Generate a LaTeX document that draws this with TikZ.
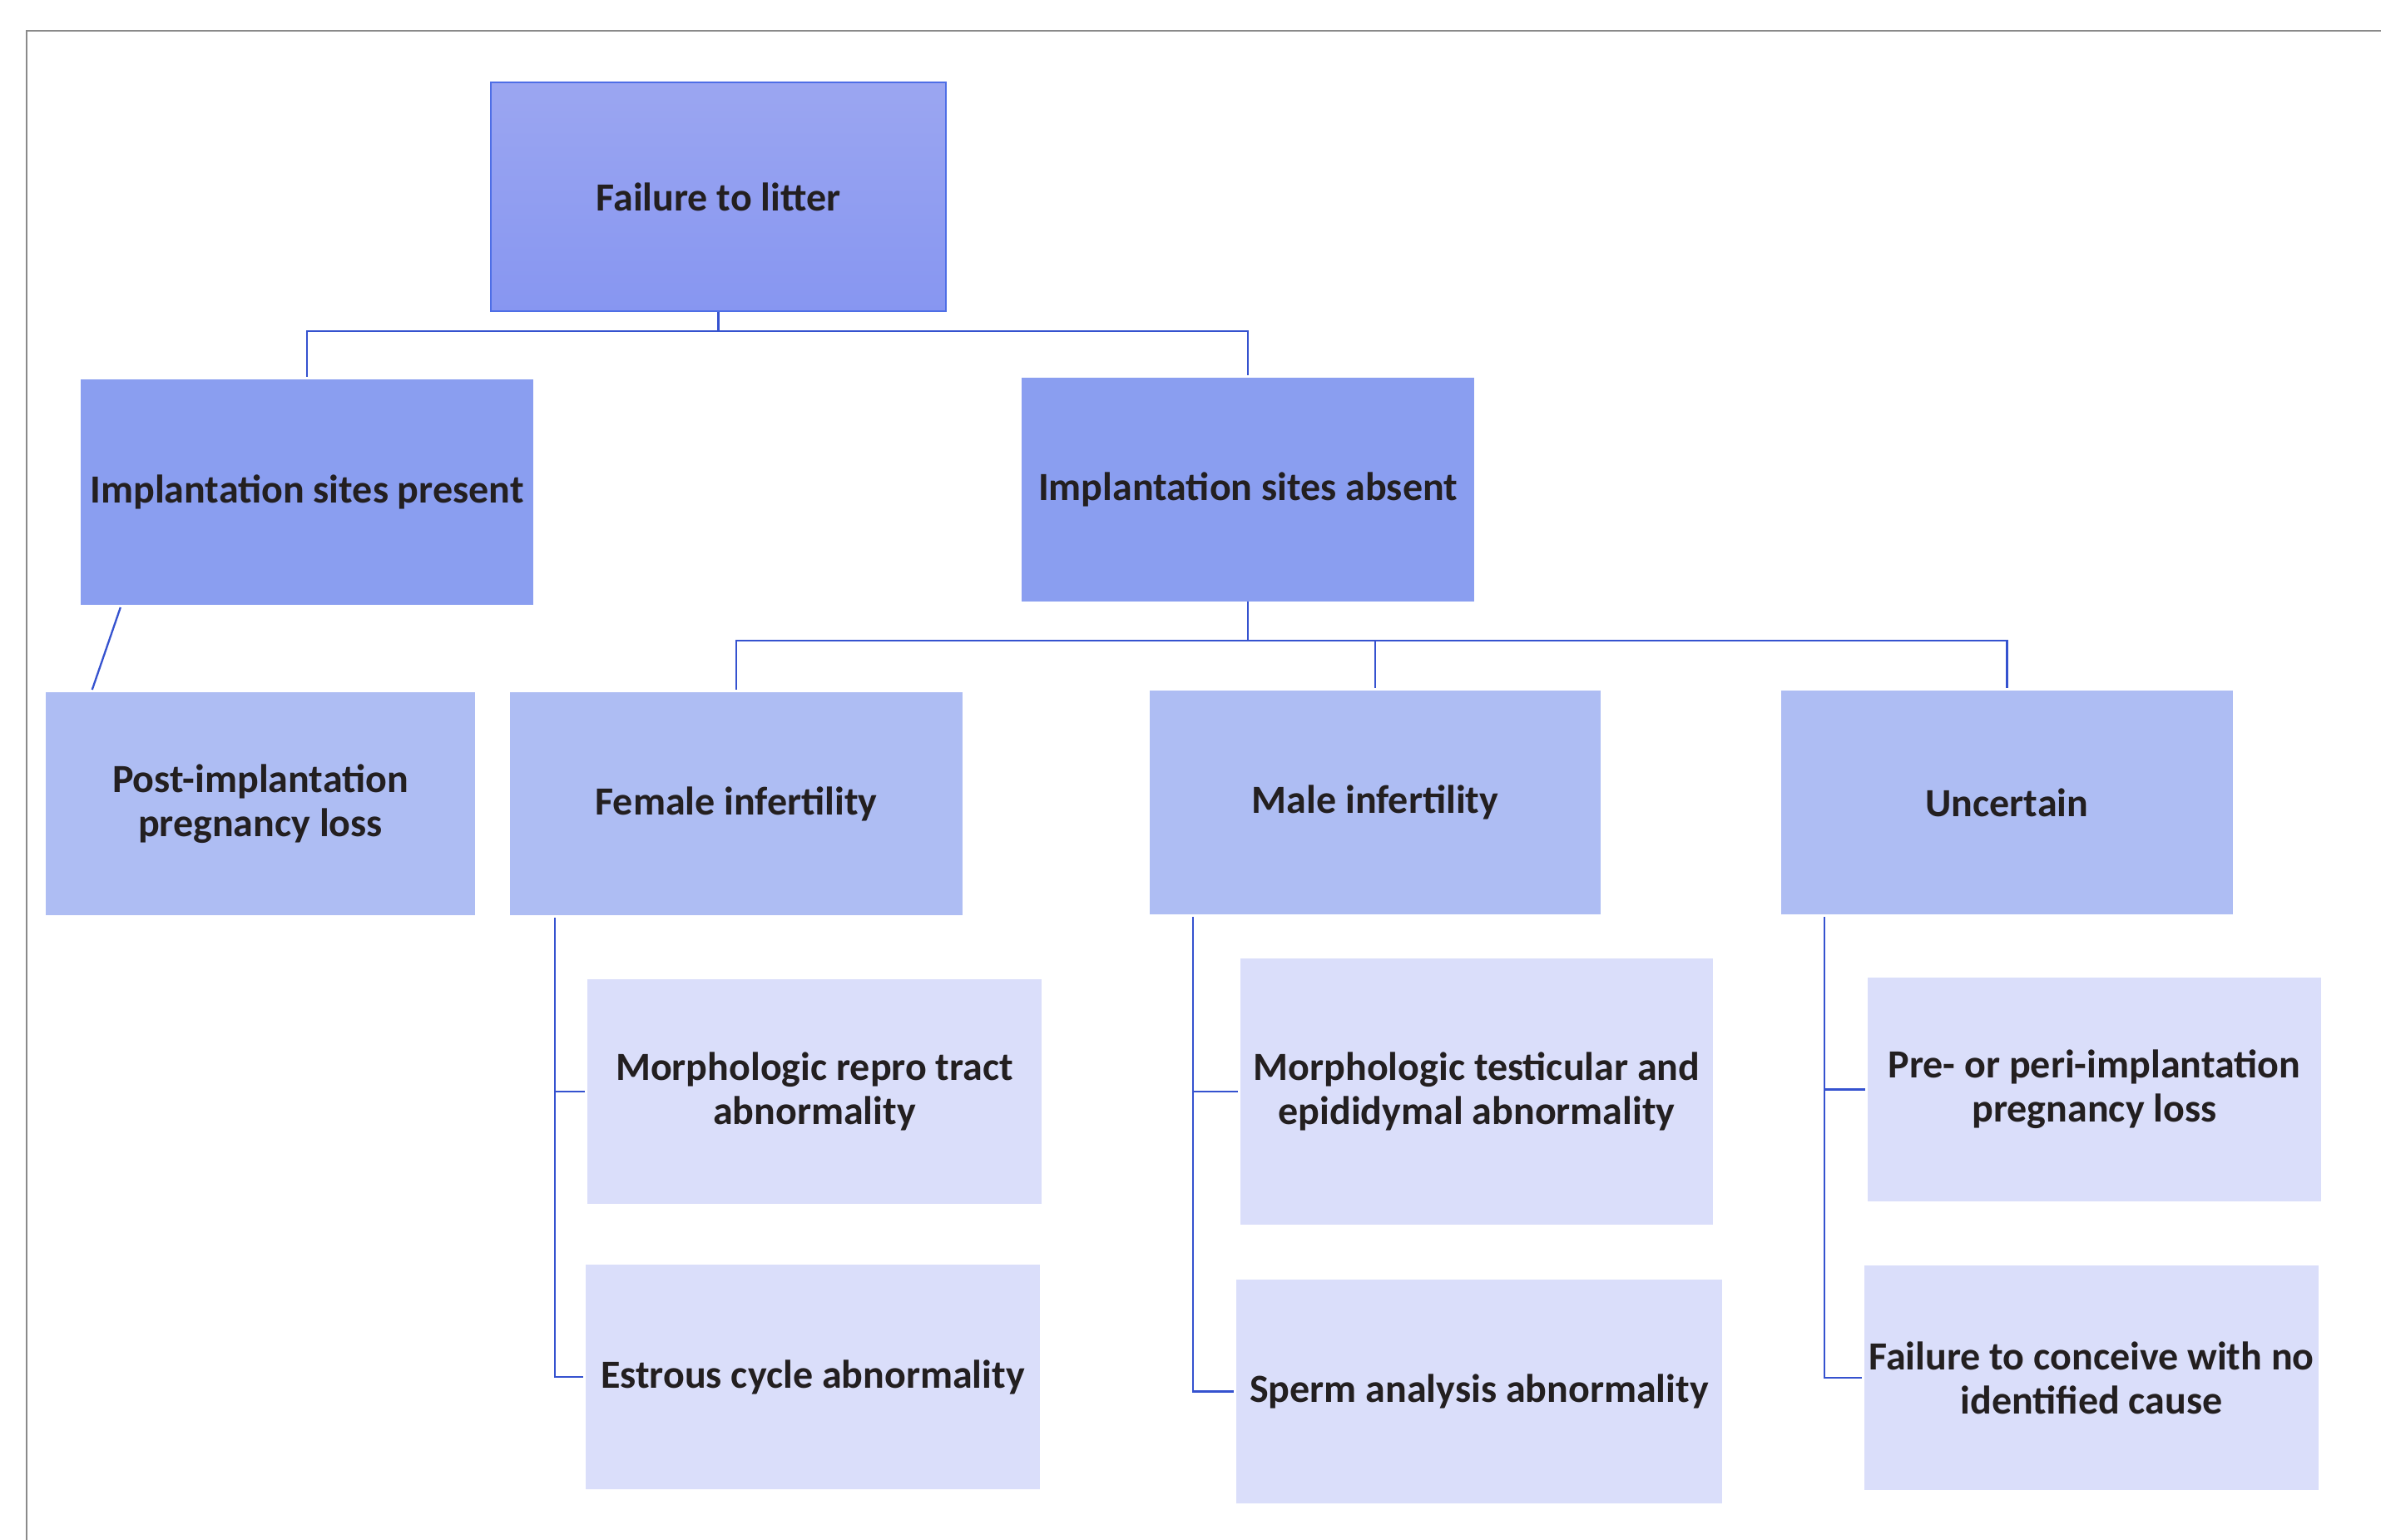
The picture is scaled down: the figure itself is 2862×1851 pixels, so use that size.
\documentclass[tikz,border=0pt]{standalone}
\usepackage{fontspec}
\setmainfont{Carlito}
\definecolor{frame}{HTML}{8A8A8A}
\definecolor{conn}{HTML}{3552CF}
\definecolor{topA}{HTML}{9BA6F1}
\definecolor{topB}{HTML}{8796F1}
\definecolor{topEdge}{HTML}{4E6EE6}
\definecolor{lvlA}{HTML}{8A9EF0}
\definecolor{lvlB}{HTML}{AEBDF3}
\definecolor{lvlC}{HTML}{DADEFA}
\definecolor{ink}{HTML}{231F20}
\begin{document}
\begin{tikzpicture}[x=1pt,y=-1pt,
  basebox/.style={rectangle, inner sep=0pt, align=center, text=ink,
    font=\fontsize{48}{53}\selectfont\bfseries},
  topbox/.style={basebox, draw=topEdge, line width=2pt, top color=topA, bottom color=topB},
  boxA/.style={basebox, fill=lvlA},
  boxB/.style={basebox, fill=lvlB},
  boxC/.style={basebox, fill=lvlC},
  wire/.style={draw=conn, line width=2.3pt},
  wirethick/.style={draw=conn, line width=2.8pt}]
\useasboundingbox (0,0) rectangle (2862,1851);
\fill[white] (0,0) rectangle (2862,1851);
% frame
\draw[frame, line width=2.2pt] (32,1851) -- (32,37) -- (2862,37);
% level 1
\node[topbox, minimum width=547pt, minimum height=275pt] (top) at (863.5,236.5) {Failure to litter};
% level 2
\node[boxA, minimum width=544pt, minimum height=271pt] (pres) at (369,591.5) {Implantation sites present};
\node[boxA, minimum width=544pt, minimum height=269pt] (abs) at (1500,588.5) {Implantation sites absent};
% level 3
\node[boxB, minimum width=516pt, minimum height=268pt] (post) at (313,966) {Post-implantation\\pregnancy loss};
\node[boxB, minimum width=544pt, minimum height=268pt] (fem) at (885,966) {Female infertility};
\node[boxB, minimum width=542pt, minimum height=269pt] (male) at (1653,964.5) {Male infertility};
\node[boxB, minimum width=543pt, minimum height=269pt] (unc) at (2412.5,964.5) {Uncertain};
% level 4
\node[boxC, minimum width=546pt, minimum height=270pt] (mrep) at (979,1312) {Morphologic repro tract\\abnormality};
\node[boxC, minimum width=546pt, minimum height=270pt] (estr) at (977,1655) {Estrous cycle abnormality};
\node[boxC, minimum width=568pt, minimum height=320pt] (mtest) at (1775,1312) {Morphologic testicular and\\epididymal abnormality};
\node[boxC, minimum width=584pt, minimum height=269pt] (sperm) at (1778,1672.5) {Sperm analysis abnormality};
\node[boxC, minimum width=545pt, minimum height=269pt] (pre) at (2517.5,1309.5) {Pre- or peri-implantation\\pregnancy loss};
\node[boxC, minimum width=546pt, minimum height=270pt] (fcon) at (2514,1656) {Failure to conceive with no\\identified cause};
% connectors level 1 -> 2
\draw[wirethick] (top.south) -- ++(0,23) coordinate (j1);
\draw[wirethick, shorten >=3pt] (j1) -| (pres.north);
\draw[wirethick, shorten >=3pt] (j1) -| (abs.north);
% pres -> post
\draw[wire, shorten <=3pt, shorten >=3pt] ([xshift=49pt]pres.south west) -- ([xshift=55pt]post.north west);
% abs -> level 3
\draw[wire] (abs.south) -- ++(0,47) coordinate (j2);
\draw[wire, shorten >=3pt] (j2) -| (fem.north);
\draw[wire, shorten >=3pt] (j2) -| (male.north);
\draw[wire, shorten >=3pt] (j2) -| (unc.north);
% female
\draw[wire] ([xshift=54pt,yshift=-3pt]fem.south west) coordinate (f0) |- ([xshift=-3pt]mrep.west);
\draw[wire] (f0) |- ([xshift=-3pt]estr.west);
% male
\draw[wire] ([xshift=52pt,yshift=-3pt]male.south west) coordinate (m0) |- ([xshift=-3pt]mtest.west);
\draw[wire] (m0) |- ([xshift=-3pt]sperm.west);
% uncertain
\draw[wire] ([xshift=52pt,yshift=-3pt]unc.south west) coordinate (u0) |- ([xshift=-3pt]pre.west);
\draw[wire] (u0) |- ([xshift=-3pt]fcon.west);
\end{tikzpicture}
\end{document}
